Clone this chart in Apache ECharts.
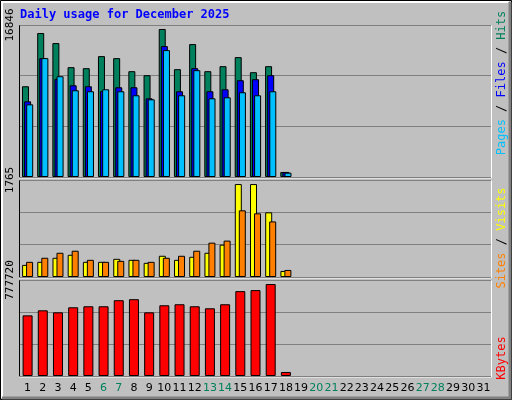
<!DOCTYPE html>
<html>
<head>
<meta charset="utf-8">
<script src="https://cdn.jsdelivr.net/npm/echarts@6/dist/echarts.min.js"></script>
<style>
  html, body { margin: 0; padding: 0; background: #c0c0c0; }
  #main { width: 512px; height: 400px; }
</style>
</head>
<body>
<div id="main"></div>
<script>
var days = [];
for (var i = 1; i <= 31; i++) days.push(String(i));
var weekend = ["6", "7", "13", "14", "20", "21", "27", "28"];

var hits = [10329, 16388, 15245, 12501, 12387, 13759, 13530, 12044, 11586, 16846, 12272, 15131, 12044, 12616, 13645, 11929, 12616, 572];
var files = [8614, 13530, 11167, 10443, 10329, 9795, 10214, 10214, 8957, 14902, 9757, 12387, 9757, 9986, 11015, 11129, 11586, 572];
var pages = [8271, 13530, 11472, 9871, 9757, 9986, 9757, 9300, 8842, 14445, 9300, 12158, 8957, 9071, 9643, 9300, 9757, 495];
var visits = [230, 288, 365, 422, 288, 288, 345, 326, 269, 403, 326, 384, 460, 614, 1765, 1765, 1228, 115];
var sites = [288, 365, 460, 499, 326, 288, 307, 326, 288, 365, 403, 499, 652, 691, 1266, 1209, 1055, 134];
var kbytes = [512776, 555500, 538400, 581100, 589700, 589700, 641000, 649500, 538400, 598200, 606800, 589700, 572600, 606800, 717900, 726400, 777720, 34200];

var maxLabels = ["16846", "1765", "777720"];
var axisMax = [17301, 1842, 811900];

var myChart = echarts.init(document.getElementById("main"));

var L = 20, R = 491;
var panels = [[25, 152], [180, 97], [280, 96]];

function yAx(idx) {
  return {
    type: "value",
    gridIndex: idx,
    min: 0,
    max: axisMax[idx],
    interval: axisMax[idx] / 3,
    axisLine: { show: false },
    axisTick: { show: false },
    splitLine: { lineStyle: { color: "#808080", width: 1 } },
    axisLabel: {
      rotate: 90,
      margin: 4,
      color: "#000",
      fontFamily: "DejaVu Sans Mono",
      fontSize: 11,
      formatter: function (v) {
        return v >= axisMax[idx] - 1 ? maxLabels[idx] : "";
      }
    }
  };
}

function xAx(idx) {
  return {
    type: "category",
    gridIndex: idx,
    data: days,
    axisLine: { show: false },
    axisTick: { show: false },
    axisLabel: {
      show: idx === 2,
      interval: 0,
      margin: 7,
      fontFamily: "DejaVu Sans",
      fontSize: 11,
      color: function (v) {
        return weekend.indexOf(v) >= 0 ? "#00805c" : "#000";
      }
    }
  };
}

function bar(name, data, color, idx, w, gap) {
  return {
    name: name,
    type: "bar",
    xAxisIndex: idx,
    yAxisIndex: idx,
    data: data,
    barWidth: w,
    barGap: gap,
    animation: false,
    itemStyle: { color: color, borderColor: "#000", borderWidth: 1 }
  };
}

// 3D panel borders and frame
var deco = [
  { type: "rect", shape: { x: 0.5, y: 0.5, width: 511, height: 399 }, style: { fill: "none", stroke: "#000" } },
  { type: "polyline", shape: { points: [[2, 398], [2, 2], [509, 2]] }, style: { stroke: "#fff", lineWidth: 2, fill: "none" } },
  { type: "polyline", shape: { points: [[510, 2], [510, 398], [2, 398]] }, style: { stroke: "#808080", lineWidth: 3, fill: "none" } }
];
panels.forEach(function (p) {
  var t = p[0] + 0.5, b = p[0] + p[1] + 0.5;
  deco.push({ type: "polyline", shape: { points: [[L - 0.5, b], [L - 0.5, t], [R, t]] }, style: { stroke: "#000", fill: "none" } });
  deco.push({ type: "polyline", shape: { points: [[R + 0.5, t], [R + 0.5, b + 0.5], [L - 0.5, b + 0.5]] }, style: { stroke: "#fff", fill: "none" } });
});

var mono = "DejaVu Sans Mono";
deco.push({
  type: "text", x: 20, y: 9,
  style: { text: "Daily usage for December 2025", fill: "#0000ff", font: "bold 12px " + mono }
});
function sideText(cy, rich, text) {
  return {
    type: "text", x: 502, y: cy, rotation: Math.PI / 2,
    style: { text: text, rich: rich, align: "center", verticalAlign: "middle", font: "12px " + mono }
  };
}
deco.push(sideText(83,
  { p: { fill: "#00c0ff", font: "12px " + mono }, f: { fill: "#0000ff", font: "12px " + mono }, h: { fill: "#00805c", font: "12px " + mono }, s: { fill: "#000", font: "12px " + mono } },
  "{p|Pages}{s| / }{f|Files}{s| / }{h|Hits}"));
deco.push(sideText(238,
  { o: { fill: "#ff8000", font: "12px " + mono }, y: { fill: "#ffff00", font: "12px " + mono }, s: { fill: "#000", font: "12px " + mono } },
  "{o|Sites}{s| / }{y|Visits}"));
deco.push(sideText(358,
  { k: { fill: "#ff0000", font: "12px " + mono } },
  "{k|KBytes}"));

option = {
  backgroundColor: "#c0c0c0",
  animation: false,
  grid: panels.map(function (p) {
    return { left: L, width: R - L, top: p[0], height: p[1] };
  }),
  xAxis: [xAx(0), xAx(1), xAx(2)],
  yAxis: [yAx(0), yAx(1), yAx(2)],
  series: [
    bar("Hits", hits, "#00805c", 0, 7, "-70%"),
    bar("Files", files, "#0000ff", 0, 7, "-70%"),
    bar("Pages", pages, "#00c0ff", 0, 7, "-70%"),
    bar("Visits", visits, "#ffff00", 1, 7, "-43%"),
    bar("Sites", sites, "#ff8000", 1, 7, "-43%"),
    bar("KBytes", kbytes, "#ff0000", 2, 10, "0%")
  ],
  graphic: deco
};

myChart.setOption(option);
</script>
</body>
</html>
